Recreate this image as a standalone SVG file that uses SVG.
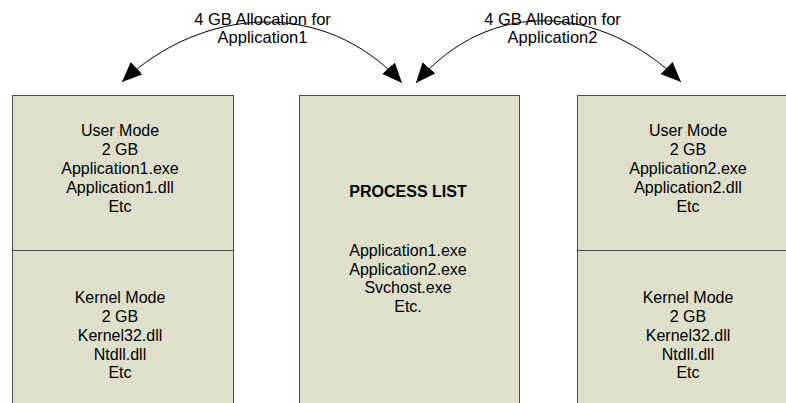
<svg xmlns="http://www.w3.org/2000/svg" width="786" height="403" viewBox="0 0 786 403">
  <style>
    .box { fill: #dee0cc; stroke: #4a4a4a; stroke-width: 1; }
    .div { stroke: #4a4a4a; stroke-width: 1; }
    text { font-family: "Liberation Sans", Arial, sans-serif; font-size: 16px; fill: #000; text-anchor: middle; }
    .bold { font-weight: bold; }
    .lbl { font-size: 16.5px; }
    .arc { fill: none; stroke: #000; stroke-width: 1; }
  </style>
  <defs>
    <marker id="ah" viewBox="0 0 20 17" markerUnits="userSpaceOnUse" markerWidth="20" markerHeight="17" refX="20" refY="8.5" orient="auto-start-reverse">
      <path d="M0,0 L20,8.5 L0,17 z" fill="#000"/>
    </marker>
  </defs>
  <rect width="786" height="403" fill="#fff"/>

  <g id="app1-space">
    <rect class="box" x="12.5" y="95.5" width="221" height="320"/>
    <line class="div" x1="12.5" y1="250.5" x2="233.5" y2="250.5"/>
    <text x="120" y="136">User Mode</text>
    <text x="120" y="155">2 GB</text>
    <text x="120" y="174">Application1.exe</text>
    <text x="120" y="192.5">Application1.dll</text>
    <text x="120" y="211.5">Etc</text>
    <text x="120" y="303">Kernel Mode</text>
    <text x="120" y="322">2 GB</text>
    <text x="120" y="340.5">Kernel32.dll</text>
    <text x="120" y="359.5">Ntdll.dll</text>
    <text x="120" y="378">Etc</text>
  </g>

  <g id="process-list">
    <rect class="box" x="299.5" y="95.5" width="220" height="320"/>
    <text class="bold" x="408" y="196.5">PROCESS LIST</text>
    <text x="408" y="256">Application1.exe</text>
    <text x="408" y="274.5">Application2.exe</text>
    <text x="408" y="293.3">Svchost.exe</text>
    <text x="408" y="312">Etc.</text>
  </g>

  <g id="app2-space">
    <rect class="box" x="577.5" y="95.5" width="221" height="320"/>
    <line class="div" x1="577.5" y1="250.5" x2="798.5" y2="250.5"/>
    <text x="688" y="136">User Mode</text>
    <text x="688" y="155">2 GB</text>
    <text x="688" y="174">Application2.exe</text>
    <text x="688" y="192.5">Application2.dll</text>
    <text x="688" y="211.5">Etc</text>
    <text x="688" y="303">Kernel Mode</text>
    <text x="688" y="322">2 GB</text>
    <text x="688" y="340.5">Kernel32.dll</text>
    <text x="688" y="359.5">Ntdll.dll</text>
    <text x="688" y="378">Etc</text>
  </g>

  <g id="connectors">
    <path class="arc" d="M122,82 C202.6,6 324.3,-2.3 402,83" marker-start="url(#ah)" marker-end="url(#ah)"/>
    <path class="arc" d="M416,83 C490.5,-4 601.5,4.3 681,82" marker-start="url(#ah)" marker-end="url(#ah)"/>
  </g>

  <g id="labels">
    <text class="lbl" x="262.5" y="24.5">4 GB Allocation for</text>
    <text class="lbl" x="262.5" y="43">Application1</text>
    <text class="lbl" x="552.5" y="24.5">4 GB Allocation for</text>
    <text class="lbl" x="552.5" y="43">Application2</text>
  </g>
</svg>
